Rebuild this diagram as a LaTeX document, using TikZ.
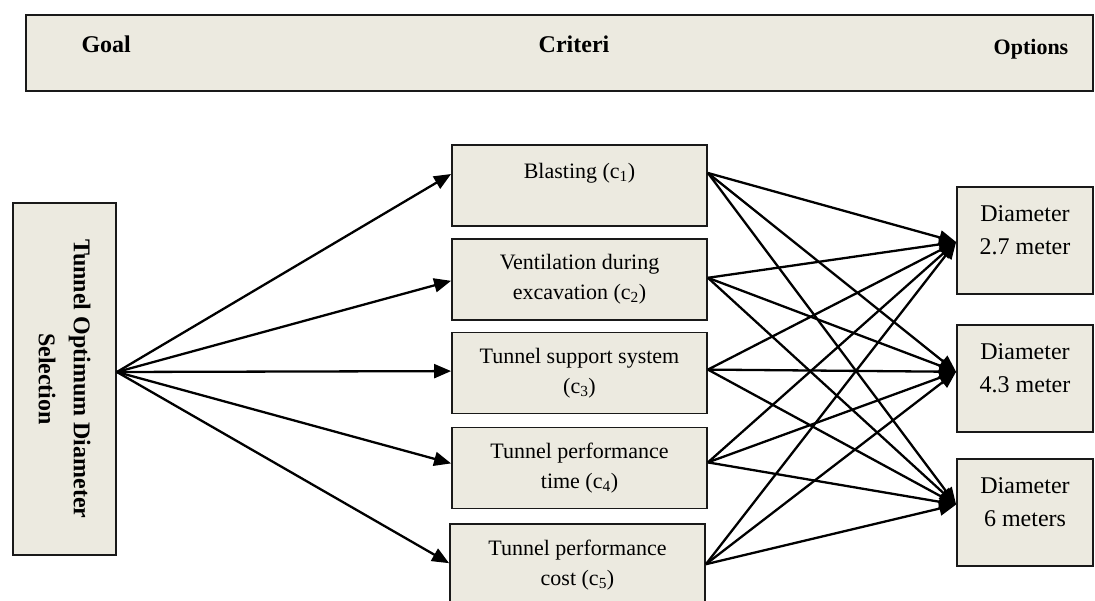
\documentclass[tikz,border=0pt]{standalone}
\usepackage{fontspec}
\setmainfont{Liberation Serif}
\usetikzlibrary{positioning,arrows.meta}
\definecolor{boxfill}{RGB}{236,234,224}
\definecolor{boxline}{RGB}{25,25,25}
\tikzset{
  box/.style={draw=boxline, line width=1.8pt, fill=boxfill, inner sep=0pt},
  crit/.style={box, minimum width=255pt, minimum height=81pt, align=center,
    font=\fontsize{22}{30}\selectfont},
  option/.style={box, minimum width=136pt, minimum height=107pt, align=center,
    font=\fontsize{24}{33}\selectfont},
  head/.style={font=\bfseries\fontsize{24}{29}\selectfont},
  link/.style={line width=2.3pt, -{Triangle[length=17pt,width=14pt]}},
}

\begin{document}
\begin{tikzpicture}[x=1pt,y=-1pt]
  \useasboundingbox (0,0) rectangle (1095,601);
  \node[box, minimum width=1067pt, minimum height=76pt] (header) at (559.5,53) {};
  \node[head, anchor=base west] (goaltitle) at (78,53) {Goal};
  \node[head, anchor=base] (crittitle) at (574,53) {Criteri};
  \node[head, font=\bfseries\fontsize{22}{26}\selectfont, anchor=base] (opttitle) at (1031,55) {Options};

  \node[box, rotate=-90, minimum width=352pt, minimum height=103pt, align=center,
    font=\bfseries\fontsize{24}{35}\selectfont] (goal) at (64.5,379) {Tunnel Optimum Diameter\\Selection};

  \node[crit] (c1) at (579.5,185.5) {Blasting (c\textsubscript{1})\\\mbox{}};
  \node[crit, below=11pt of c1] (c2) {Ventilation during\\excavation (c\textsubscript{2})};
  \node[crit, below=11pt of c2] (c3) {Tunnel support system\\(c\textsubscript{3})};
  \node[crit, below=12pt of c3] (c4) {Tunnel performance\\time (c\textsubscript{4})};
  \node[crit, below=14pt of c4, xshift=-2pt] (c5) {Tunnel performance\\cost (c\textsubscript{5})};

  \node[option] (o1) at (1025,240.5) {Diameter\\2.7 meter\\[-12pt]\mbox{}};
  \node[option, below=29pt of o1] (o2) {Diameter\\4.3 meter\\[-12pt]\mbox{}};
  \node[option, below=25pt of o2] (o3) {Diameter\\6 meters\\[-12pt]\mbox{}};

  \foreach \c/\s in {c1/11.5, c2/-1.5, c3/2, c4/4.5, c5/1.5}
    \draw[link] ([yshift=7pt]goal.north) -- ([yshift=\s pt]\c.west);

  \foreach \c/\s in {c1/12.5, c2/1.5, c3/3.5, c4/5.5, c5/0.5}
    \foreach \o/\t in {o1/-1.5, o2/6.5, o3/7.5}
      \draw[link] ([yshift=\s pt]\c.east) -- ([yshift=\t pt]\o.west);
\end{tikzpicture}
\end{document}
